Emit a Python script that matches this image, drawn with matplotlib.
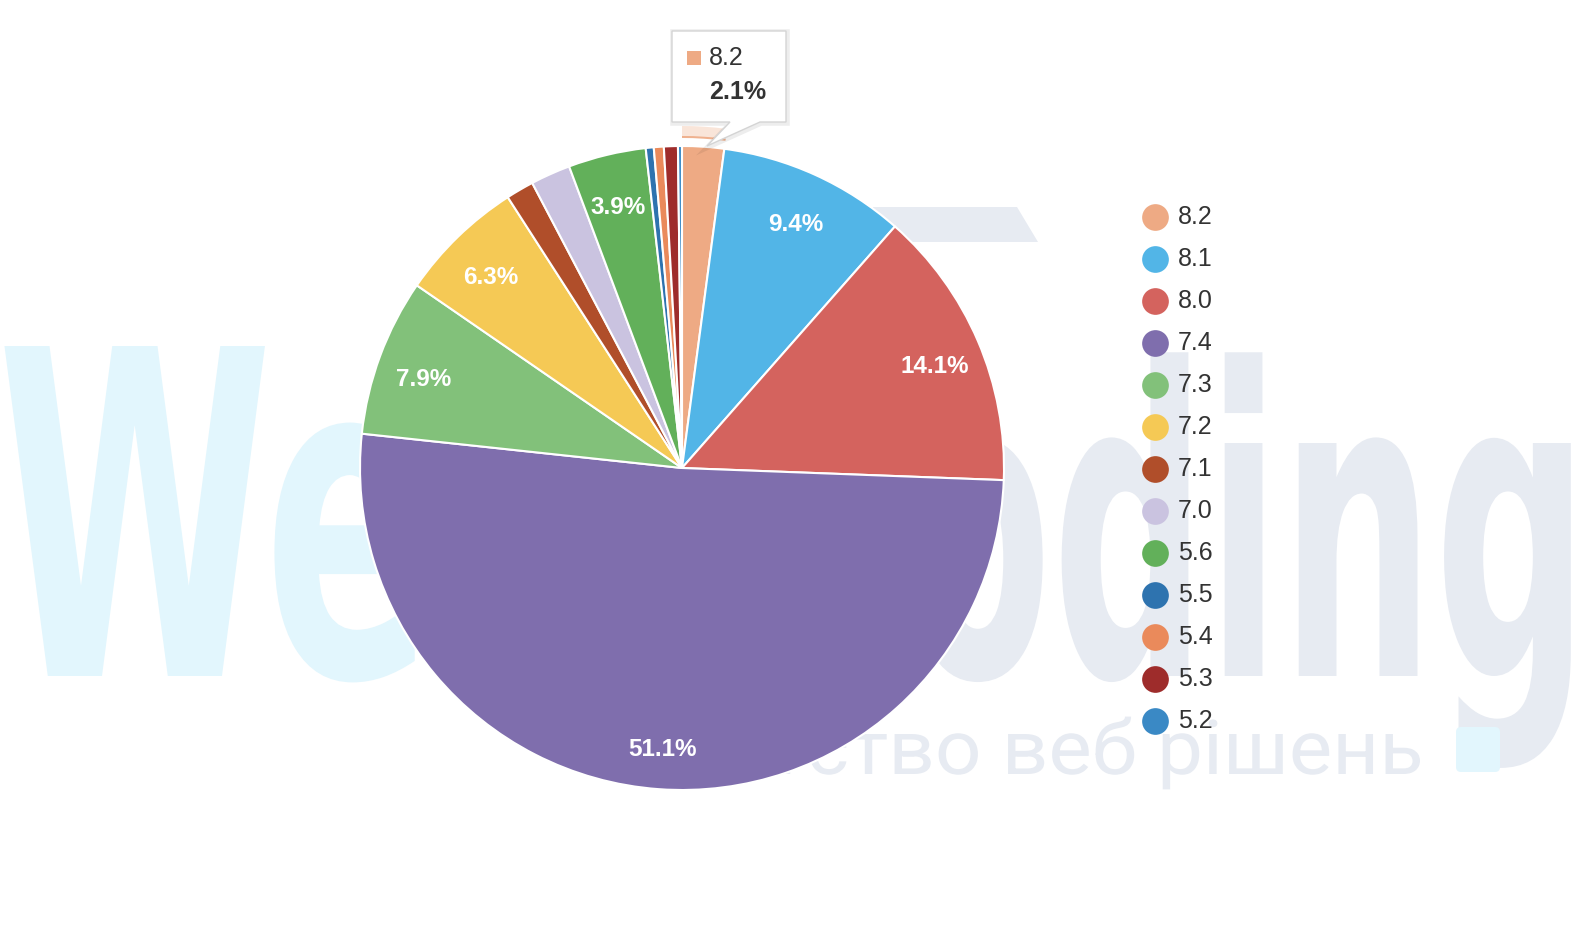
import matplotlib
matplotlib.use('Agg')
import matplotlib.pyplot as plt
from matplotlib.patches import Wedge, Polygon, PathPatch, FancyBboxPatch
from matplotlib.textpath import TextPath
from matplotlib.font_manager import FontProperties
from matplotlib.transforms import Affine2D

W, H = 1572, 930

# php versions and their share, clockwise from 12 o'clock
versions = ['8.2', '8.1', '8.0', '7.4', '7.3', '7.2', '7.1', '7.0', '5.6', '5.5', '5.4', '5.3', '5.2']
shares = [2.1, 9.4, 14.1, 51.1, 7.9, 6.3, 1.4, 2.0, 3.9, 0.4, 0.5, 0.7, 0.2]
colors = ['#EEAA84', '#52B5E7', '#D4635E', '#7F6EAD', '#82C17A', '#F5C955', '#B04E2A',
          '#CAC3E0', '#62B05A', '#2E73AF', '#EA8A5B', '#9E2C2B', '#3A89C5']
hovered = 0  # slice with tooltip

fig = plt.figure(figsize=(W / 100, H / 100), dpi=100)
ax = fig.add_axes([0, 0, 1, 1])

GREY = '#E7EBF2'
CYAN = '#E2F6FD'


def word(text, x, base, em_x, height, ref, color, family='DejaVu Sans', weight='bold'):
    # watermark text, squeezed horizontally, in pixel units
    fp = FontProperties(family=family, weight=weight)
    p = TextPath((0, 0), text, size=100, prop=fp)
    r = TextPath((0, 0), ref, size=100, prop=fp).get_extents().ymax
    tr = Affine2D().scale(em_x / 100, height / r).translate(x, H - base)
    ax.add_patch(PathPatch(tr.transform_path(p), fc=color, ec='none', zorder=0))


# background watermark
word('We', -3, 676, 250, 330, 'W', CYAN)
word('Coding', 745, 676, 216, 233, 'x', GREY)
ax.add_patch(Polygon([(873, H - 207), (1017, H - 207), (1038, H - 242), (873, H - 242)],
                     closed=True, fc=GREY, ec='none', zorder=0))

fp_sub = FontProperties(family='Roboto')
part = TextPath((0, 0), 'ство веб рішень', size=100, prop=fp_sub)
full = TextPath((0, 0), 'Агентство веб рішень', size=100, prop=fp_sub)
xh = TextPath((0, 0), 'x', size=100, prop=fp_sub).get_extents().ymax
sx = 610 / part.get_extents().width
sy = 40 / xh
fe = full.get_extents()
tr = Affine2D().translate(-fe.x1, 0).scale(sx, sy).translate(1420, H - 774)
ax.add_patch(PathPatch(tr.transform_path(full), fc=GREY, ec='none', zorder=0))
ax.add_patch(FancyBboxPatch((1456, H - 772), 44, 45, boxstyle='round,pad=0,rounding_size=5',
                            fc=CYAN, ec='none', zorder=0))

cx, cy, R = 682, H - 468, 322
wedges, texts, autotexts = ax.pie(
    shares, colors=colors, startangle=90, counterclock=False,
    center=(cx, cy), radius=R,
    autopct=lambda p: f'{p:.1f}%' if p >= 3 else '', pctdistance=0.855,
    wedgeprops=dict(edgecolor='white', linewidth=1.5),
    textprops=dict(color='white', fontsize=17.5, fontweight='bold', family='Liberation Sans'))
for t in autotexts:
    x, y = t.get_position()
    t.set_position((x, y - 7))

# hover halo on the tooltip slice
w0 = wedges[hovered]
ax.add_patch(Wedge((cx, cy), R + 20, w0.theta1, w0.theta2, width=11,
                   fc=colors[hovered], alpha=0.3, lw=0, zorder=1))
ax.add_patch(Wedge((cx, cy), R + 10, w0.theta1, w0.theta2, width=2,
                   fc=colors[hovered], alpha=0.9, lw=0, zorder=1))

ax.set_xlim(0, W)
ax.set_ylim(0, H)
ax.axis('off')

# legend
for i, (v, c) in enumerate(zip(versions, colors)):
    y = H - (217 + 42 * i)
    ax.scatter(1155, y, s=370, color=c, zorder=5, lw=0)
    ax.text(1178, y, v, fontsize=18, color='#333333', va='center', ha='left',
            family='Liberation Sans', zorder=5)

# tooltip
pts = [(672, 31), (786, 31), (786, 122), (760, 122), (707, 146), (730, 122), (672, 122)]
shadow = [(x + 1, H - y - 1) for x, y in pts]
ax.add_patch(Polygon(shadow, closed=True, fc='none', ec='#000000', alpha=0.07, lw=4, zorder=6))
ax.add_patch(Polygon([(x, H - y) for x, y in pts], closed=True, fc='white', ec='#d4d4d4',
                     lw=1, zorder=7))
ax.scatter(694, H - 58, s=95, marker='s', color=colors[hovered], lw=0, zorder=8)
ax.text(709, H - 58, versions[hovered], fontsize=18, color='#333333', va='center',
        family='Liberation Sans', zorder=8)
ax.text(709, H - 92, f'{shares[hovered]:.1f}%', fontsize=18, color='#333333', va='center',
        fontweight='bold', family='Liberation Sans', zorder=8)

fig.savefig('out.png', dpi=100, facecolor='white')
